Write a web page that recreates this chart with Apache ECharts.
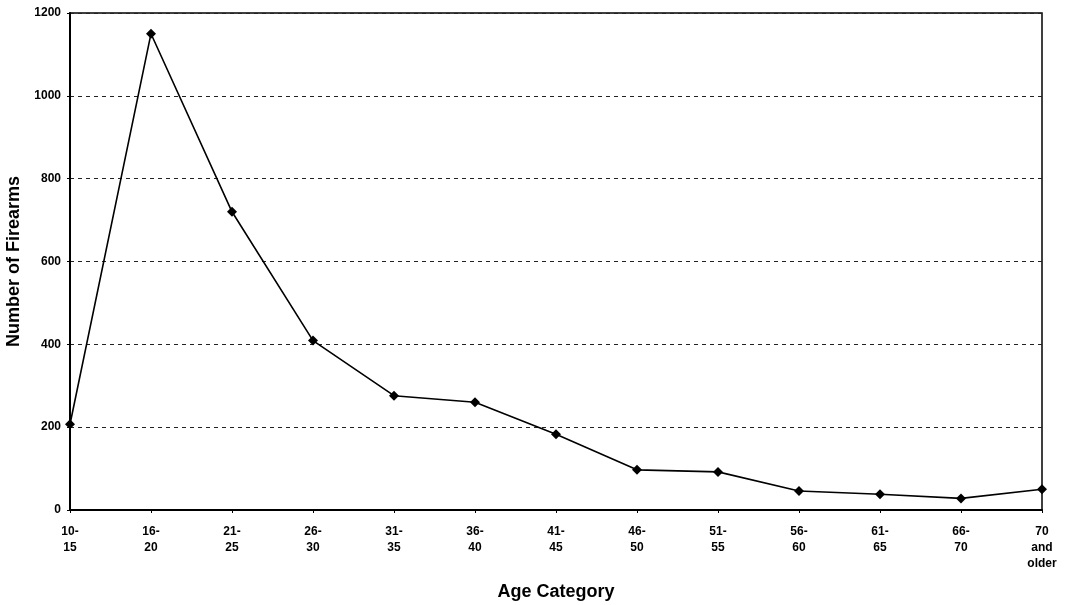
<!DOCTYPE html>
<html>
<head>
<meta charset="utf-8">
<script src="https://cdn.jsdelivr.net/npm/echarts@6/dist/echarts.min.js"></script>
<style>
html,body{margin:0;padding:0;background:#fff;}
#chart{width:1068px;height:605px;}
</style>
</head>
<body>
<div id="chart"></div>
<script>
const categories = ["10-\n15","16-\n20","21-\n25","26-\n30","31-\n35","36-\n40","41-\n45","46-\n50","51-\n55","56-\n60","61-\n65","66-\n70","70\nand\nolder"];
const firearms = [207, 1150, 720, 409, 276, 260, 183, 97, 92, 46, 38, 28, 50];
const yTicks = [0, 200, 400, 600, 800, 1000, 1200];
const xTitle = "Age Category";
const yTitle = "Number of Firearms";

const chart = echarts.init(document.getElementById('chart'), null, {renderer:'canvas'});
const font = "'Liberation Sans', Arial, sans-serif";
chart.setOption({
  animation:false,
  backgroundColor:'#fff',
  grid:{left:70,right:26,top:13,bottom:95,show:true,borderColor:'#000',borderWidth:1.5,backgroundColor:'transparent',containLabel:false,outerBoundsMode:'none'},
  xAxis:{
    type:'category',
    data:categories,
    boundaryGap:false,
    name:xTitle,
    nameLocation:'middle',
    nameGap:73,
    nameTextStyle:{fontFamily:font,fontWeight:'bold',fontSize:18,color:'#000'},
    axisLine:{lineStyle:{color:'#000',width:2}},
    axisTick:{show:true,length:3,lineStyle:{color:'#000',width:1}},
    axisLabel:{fontFamily:font,fontWeight:'bold',fontSize:12,color:'#000',lineHeight:16,margin:14},
    splitLine:{show:false}
  },
  yAxis:{
    type:'value',
    min:yTicks[0],
    max:yTicks[yTicks.length-1],
    interval:yTicks[1]-yTicks[0],
    name:yTitle,
    nameLocation:'middle',
    nameGap:44,
    nameTextStyle:{fontFamily:font,fontWeight:'bold',fontSize:18,color:'#000'},
    axisLine:{show:true,lineStyle:{color:'#000',width:2}},
    axisTick:{show:true,length:3,lineStyle:{color:'#000'}},
    axisLabel:{fontFamily:font,fontWeight:'bold',fontSize:12,color:'#000',margin:9,formatter:function(v){return String(v);}},
    splitLine:{show:true,lineStyle:{color:'#222',width:1,type:[4,4]}}
  },
  series:[{
    type:'line',
    data:firearms,
    symbol:'diamond',
    symbolSize:10,
    itemStyle:{color:'#000'},
    lineStyle:{color:'#000',width:1.6},
    z:5
  }]
});
</script>
</body>
</html>
